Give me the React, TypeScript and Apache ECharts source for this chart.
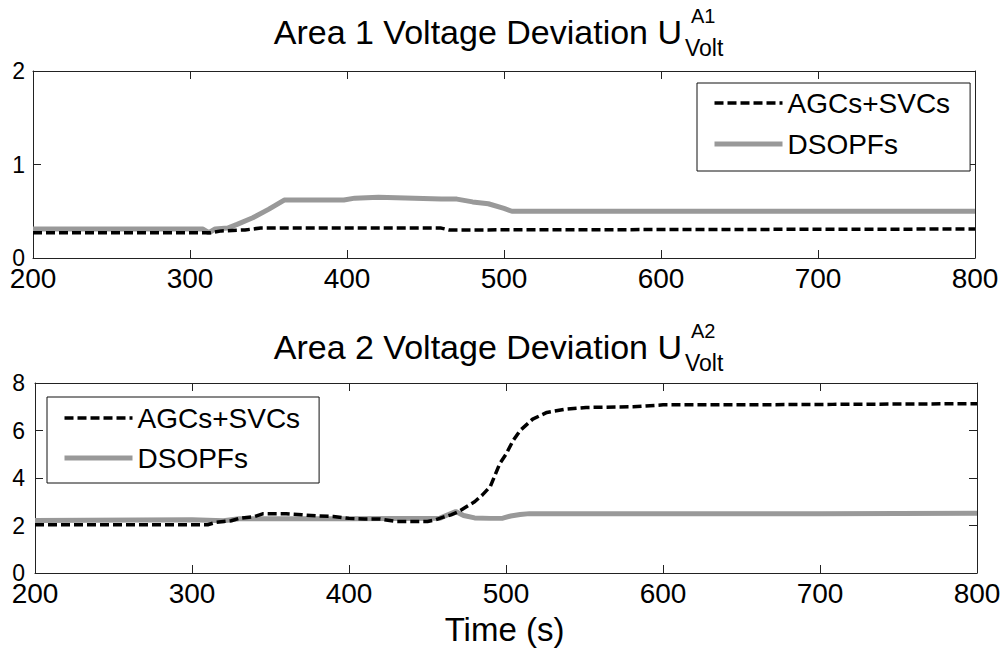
import React, { useEffect, useRef } from "react";
import * as echarts from "echarts";

// ---- Data ----
const xTicks = [200, 300, 400, 500, 600, 700, 800];
const seriesNames = ["AGCs+SVCs", "DSOPFs"];

// Area 1
const a1AgcT = [200, 313, 320, 335, 345, 460, 465, 800];
const a1AgcV = [0.27, 0.27, 0.29, 0.3, 0.32, 0.32, 0.3, 0.31];
const a1DsoT = [200, 308, 312, 316, 324, 330, 340, 350, 360, 398, 405, 420, 460, 470, 480, 490, 500, 505, 800];
const a1DsoV = [0.31, 0.31, 0.27, 0.31, 0.32, 0.36, 0.43, 0.52, 0.62, 0.62, 0.64, 0.65, 0.63, 0.63, 0.6, 0.58, 0.53, 0.5, 0.5];

// Area 2
const a2AgcT = [200, 310, 315, 325, 330, 340, 345, 360, 370, 380, 390, 400, 410, 420, 430, 450, 455, 460, 465, 470, 475, 480, 485, 490, 496, 500, 504.5, 509, 517, 526, 538, 551, 581, 600, 645, 708, 800];
const a2AgcV = [2.03, 2.03, 2.13, 2.2, 2.3, 2.38, 2.49, 2.49, 2.45, 2.4, 2.38, 2.3, 2.27, 2.27, 2.17, 2.17, 2.24, 2.35, 2.45, 2.59, 2.8, 3.0, 3.29, 3.64, 4.6, 5.0, 5.57, 6.0, 6.48, 6.76, 6.9, 6.97, 7.0, 7.08, 7.08, 7.1, 7.13];
const a2DsoT = [200, 300, 320, 330, 400, 458, 463, 468, 473, 480, 490, 498, 503, 509, 515, 600, 700, 800];
const a2DsoV = [2.21, 2.24, 2.2, 2.28, 2.28, 2.31, 2.45, 2.59, 2.42, 2.32, 2.3, 2.31, 2.4, 2.46, 2.5, 2.5, 2.5, 2.52];

const zip = (t: number[], v: number[]) => t.map((x, i) => [x, v[i]]);

const FONT = "'Liberation Sans', Arial, Helvetica, sans-serif";
const AGC_COLOR = "#000000";
const DSO_COLOR = "#999999";
const AGC_DASH = [9, 4];
const HIDDEN = { color: "rgba(0,0,0,0)", borderColor: "rgba(0,0,0,0)", borderWidth: 0 };

function xAxisPair(gridIndex: number) {
  const base = {
    type: "value",
    gridIndex,
    min: xTicks[0],
    max: xTicks[xTicks.length - 1],
    interval: 100,
    splitLine: { show: false },
    axisLine: { show: true, onZero: false, lineStyle: { color: "#222", width: 1 } },
    axisTick: { show: true, inside: true, length: 8, lineStyle: { color: "#222", width: 1 } },
  };
  return [
    {
      ...base,
      position: "bottom",
      axisLabel: { show: true, fontSize: 28, lineHeight: 20, color: "#000", fontFamily: FONT, margin: 10 },
    },
    { ...base, position: "top", axisLabel: { show: false } },
  ];
}

function yAxisPair(gridIndex: number, max: number, interval: number, margin: number) {
  const base = {
    type: "value",
    gridIndex,
    min: 0,
    max,
    interval,
    splitLine: { show: false },
    axisLine: { show: true, onZero: false, lineStyle: { color: "#222", width: 1 } },
    axisTick: { show: true, inside: true, length: 8, lineStyle: { color: "#222", width: 1 } },
  };
  return [
    {
      ...base,
      position: "left",
      axisLabel: { show: true, fontSize: 23, lineHeight: 14, color: "#000", fontFamily: FONT, margin },
    },
    { ...base, position: "right", axisLabel: { show: false } },
  ];
}

function legendAt(left: number, top: number, padding: number[], itemGap: number) {
  return {
    left,
    top,
    orient: "vertical",
    padding,
    itemGap,
    itemWidth: 68,
    itemHeight: 14,
    selectedMode: false,
    backgroundColor: "#fff",
    borderColor: "#111",
    borderWidth: 1,
    borderRadius: 0,
    textStyle: { fontSize: 28, lineHeight: 30, color: "#000", fontFamily: FONT },
    data: [
      { name: seriesNames[0], itemStyle: HIDDEN, lineStyle: { color: AGC_COLOR, width: 3.5, type: AGC_DASH } },
      { name: seriesNames[1], itemStyle: HIDDEN, lineStyle: { color: DSO_COLOR, width: 5, type: "solid" } },
    ],
  };
}

function lineSeries(name: string, data: number[][], idx: number, isAgc: boolean) {
  return {
    type: "line",
    name,
    xAxisIndex: idx,
    yAxisIndex: idx,
    data,
    symbol: "none",
    showSymbol: false,
    z: isAgc ? 3 : 2,
    lineStyle: isAgc
      ? { color: AGC_COLOR, width: 3.5, type: AGC_DASH }
      : { color: DSO_COLOR, width: 5, type: "solid" },
    itemStyle: { color: isAgc ? AGC_COLOR : DSO_COLOR },
  };
}

function titleGraphics(mainY: number, supText: string) {
  return [
    {
      type: "text",
      x: 682,
      y: mainY,
      style: { text: "Area " + supText.slice(1) + " Voltage Deviation U", font: `34px ${FONT}`, fill: "#000", verticalAlign: "middle", textAlign: "right" },
    },
    {
      type: "text",
      x: 691,
      y: mainY - 15.5,
      style: { text: supText, font: `20px ${FONT}`, fill: "#000", verticalAlign: "middle", textAlign: "left" },
    },
    {
      type: "text",
      x: 685,
      y: mainY + 16.5,
      style: { text: "Volt", font: `23px ${FONT}`, fill: "#000", verticalAlign: "middle", textAlign: "left" },
    },
  ];
}

export default function App() {
  const ref = useRef<HTMLDivElement>(null);

  useEffect(() => {
    document.body.style.margin = "0";
    if (!ref.current) return;
    const chart = echarts.init(ref.current, undefined, { renderer: "svg" });
    const x0 = xAxisPair(0);
    const x1 = xAxisPair(1);
    const y0 = yAxisPair(0, 2, 1, 8);
    const y1 = yAxisPair(1, 8, 2, 10);
    chart.setOption({
      animation: false,
      backgroundColor: "#fff",
      textStyle: { fontFamily: FONT },
      grid: [
        { left: 33, right: 30, top: 71, height: 187, containLabel: false },
        { left: 35, right: 28, top: 383, height: 190, containLabel: false },
      ],
      xAxis: [x0[0], x0[1], x1[0], x1[1]],
      yAxis: [y0[0], y0[1], y1[0], y1[1]],
      legend: [
        legendAt(697, 83, [5, 20, 12, 15], 11),
        legendAt(47, 397, [6, 19, 10, 15], 10),
      ],
      series: [
        lineSeries(seriesNames[1], zip(a1DsoT, a1DsoV), 0, false),
        lineSeries(seriesNames[0], zip(a1AgcT, a1AgcV), 0, true),
        lineSeries(seriesNames[1], zip(a2DsoT, a2DsoV), 2, false),
        lineSeries(seriesNames[0], zip(a2AgcT, a2AgcV), 2, true),
      ],
      graphic: [
        ...titleGraphics(31.5, "A1"),
        ...titleGraphics(346.5, "A2"),
        {
          type: "text",
          x: 504.5,
          y: 629,
          style: { text: "Time (s)", font: `33px ${FONT}`, fill: "#000", verticalAlign: "middle", textAlign: "center" },
        },
      ],
    });
    return () => chart.dispose();
  }, []);

  return <div ref={ref} style={{ width: 1005, height: 651 }} />;
}
